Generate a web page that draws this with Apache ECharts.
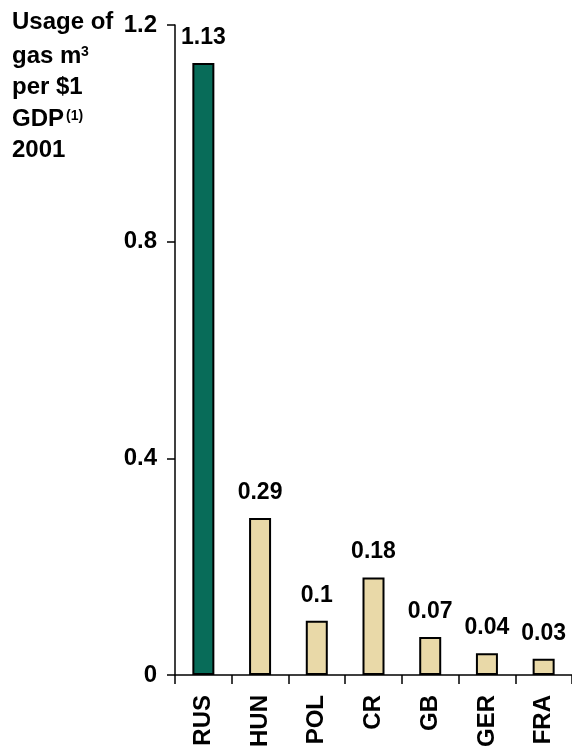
<!DOCTYPE html>
<html>
<head>
<meta charset="utf-8">
<script src="https://cdn.jsdelivr.net/npm/echarts@6/dist/echarts.min.js"></script>
<style>
html,body{margin:0;padding:0;background:#fff;}
#chart{width:572px;height:750px;}
</style>
</head>
<body>
<div id="chart"></div>
<script>
const categories = ['RUS', 'HUN', 'POL', 'CR', 'GB', 'GER', 'FRA'];
const values = [1.13, 0.29, 0.1, 0.18, 0.07, 0.04, 0.03];
const valueLabels = ['1.13', '0.29', '0.1', '0.18', '0.07', '0.04', '0.03'];
const barColors = ['#086C59', '#E9D9A8', '#E9D9A8', '#E9D9A8', '#E9D9A8', '#E9D9A8', '#E9D9A8'];
const yTicks = [0, 0.4, 0.8, 1.2];
const yTickLabels = {'0': '0', '0.4': '0.4', '0.8': '0.8', '1.2': '1.2'};

const FONT = "'Liberation Sans', Arial, sans-serif";
const chart = echarts.init(document.getElementById('chart'), null, {renderer: 'canvas'});

const titleLines = [
  {t: 'Usage of', y: 22},
  {t: 'gas m', y: 56},
  {t: 'per $1', y: 87},
  {t: 'GDP', y: 119},
  {t: '2001', y: 150}
];
const graphics = titleLines.map(l => ({
  type: 'text', left: 12, top: l.y - 12,
  style: {text: l.t, font: 'bold 24px ' + FONT, fill: '#000'}
}));
graphics.push({type: 'text', left: 81, top: 45, style: {text: '3', font: 'bold 14px ' + FONT, fill: '#000'}});
graphics.push({type: 'text', left: 66, top: 109, style: {text: '(1)', font: 'bold 14px ' + FONT, fill: '#000'}});

chart.setOption({
  animation: false,
  backgroundColor: '#fff',
  grid: {left: 175, top: 25, width: 400, height: 651, containLabel: false},
  xAxis: {
    type: 'category',
    data: categories,
    boundaryGap: true,
    axisLine: {show: true, lineStyle: {color: '#000', width: 1.5}},
    axisTick: {show: true, length: 9, lineStyle: {color: '#000', width: 1.5}},
    axisLabel: {
      rotate: 90, margin: 20, color: '#000',
      fontFamily: FONT, fontWeight: 'bold', fontSize: 24
    },
    splitLine: {show: false}
  },
  yAxis: {
    type: 'value',
    min: 0, max: 1.2, interval: 0.4,
    axisLine: {show: true, lineStyle: {color: '#000', width: 1.5}},
    axisTick: {show: true, length: 8, lineStyle: {color: '#000', width: 1.5}},
    axisLabel: {
      margin: 18, color: '#000', fontFamily: FONT, fontWeight: 'bold', fontSize: 24,
      formatter: v => yTickLabels[String(Math.round(v * 10) / 10)] ?? String(v)
    },
    splitLine: {show: false}
  },
  series: [{
    type: 'bar',
    barWidth: 22,
    data: values.map((v, i) => ({
      value: v,
      itemStyle: {color: barColors[i], borderColor: '#000', borderWidth: 2}
    })),
    label: {
      show: true, position: 'top', distance: 14,
      color: '#000', fontFamily: FONT, fontWeight: 'bold', fontSize: 23,
      formatter: p => valueLabels[p.dataIndex]
    }
  }],
  graphic: graphics
});
</script>
</body>
</html>
